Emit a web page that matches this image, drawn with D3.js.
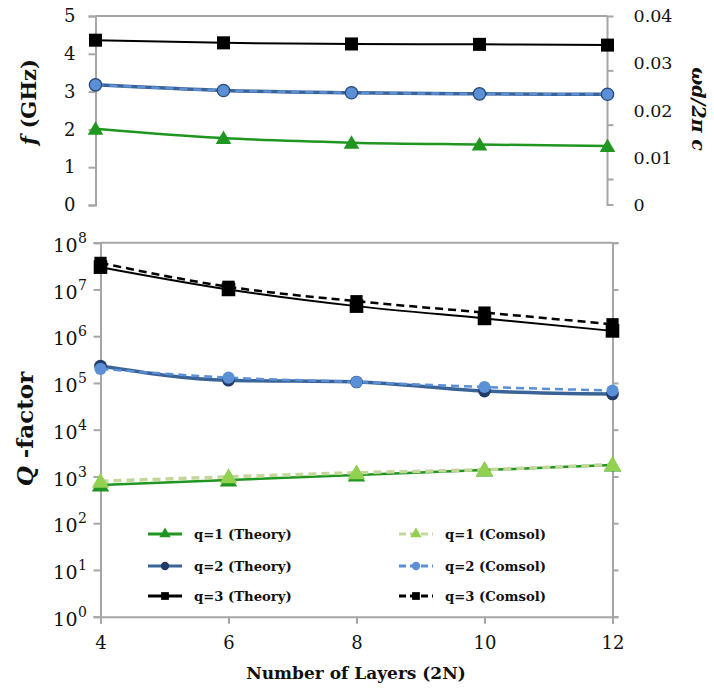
<!DOCTYPE html>
<html><head><meta charset="utf-8">
<script src="https://cdn.jsdelivr.net/npm/d3@7/dist/d3.min.js"></script>
<style>body{margin:0;background:#fff}svg{display:block}text{font-family:"DejaVu Serif",serif}</style>
</head><body><svg id="c" width="714" height="690"></svg>
<script>
// ---- data ----
const layers = [4, 6, 8, 10, 12];
// top panel: resonance frequency f (GHz)
const fQ1 = [2.02, 1.77, 1.65, 1.60, 1.56];
const fQ2 = [3.18, 3.03, 2.97, 2.94, 2.93];
const fQ3 = [4.36, 4.29, 4.26, 4.25, 4.23];
// bottom panel: Q-factor
const qQ1Theory = [660, 840, 1070, 1370, 1750];
const qQ1Comsol = [790, 980, 1200, 1400, 1800];
const qQ2Theory = [230000, 114000, 105000, 67000, 58000];
const qQ2Comsol = [200000, 130000, 105000, 82000, 69000];
const qQ3Theory = [30000000, 10000000, 4400000, 2400000, 1300000];
const qQ3Comsol = [37000000, 11400000, 5600000, 3200000, 1800000];
const fTicks = [0, 1, 2, 3, 4, 5];
const rightTicks = [0, 0.01, 0.02, 0.03, 0.04];
const rightTickMarks = [0.0055, 0.017, 0.0285, 0.04];
const logTicks = [1, 10, 100, 1000, 10000, 100000, 1000000, 10000000, 100000000];
const legendItems = [
  {label: "q=1 (Theory)", key: "q1t"}, {label: "q=1 (Comsol)", key: "q1c"},
  {label: "q=2 (Theory)", key: "q2t"}, {label: "q=2 (Comsol)", key: "q2c"},
  {label: "q=3 (Theory)", key: "q3t"}, {label: "q=3 (Comsol)", key: "q3c"}
];

// ---- styles ----
const GRID = "#a6a6a6";
const st = {
  q1t: {line: "#1f961f", w: 2.5, dash: null, marker: "tri", fill: "#1f961f"},
  q1c: {line: "#c4d79b", w: 3.5, dash: "8,5", marker: "tri", fill: "#92d050"},
  q2t: {line: "#3a6497", w: 3.5, dash: null, marker: "circ", fill: "#1f3c68"},
  q2c: {line: "#5b8fd6", w: 2.5, dash: "8,5", marker: "circ", fill: "#5b8fd6"},
  q3t: {line: "#000", w: 2, dash: null, marker: "sq", fill: "#000"},
  q3c: {line: "#000", w: 2.5, dash: "8,5", marker: "sq", fill: "#000"}
};
const symType = {tri: d3.symbolTriangle, circ: d3.symbolCircle, sq: d3.symbolSquare};
const symSize = {tri: 110, circ: 125, sq: 175};

const svg = d3.select("#c");

function axisStyle(g, fs = 17) {
  g.selectAll("path.domain").attr("stroke", GRID).attr("stroke-width", 2);
  g.selectAll(".tick line").attr("stroke", GRID).attr("stroke-width", 2);
  g.selectAll(".tick text").attr("fill", "#111").style("font-family", "DejaVu Serif").style("font-size", fs + "px");
}

function drawSeries(g, x, y, vals, s, curve, opts = {}) {
  const line = d3.line().x((d, i) => x(layers[i])).y(d => y(d)).curve(curve);
  g.append("path").attr("d", line(vals)).attr("fill", "none")
    .attr("stroke", opts.lineColor || s.line).attr("stroke-width", opts.w || s.w)
    .attr("stroke-dasharray", opts.dash === undefined ? s.dash : opts.dash);
}
function drawMarkers(g, x, y, vals, s, opts = {}) {
  g.selectAll(null).data(vals).enter().append("path")
    .attr("d", d3.symbol().type(symType[s.marker]).size(opts.size || symSize[s.marker]))
    .attr("transform", (d, i) => `translate(${x(layers[i])},${y(d) + (s.marker === "tri" ? 1.5 : 0)})`)
    .attr("fill", opts.fill || s.fill).attr("stroke", opts.stroke || "none").attr("stroke-width", 1.3);
}

// ================= TOP PANEL =================
const xT = d3.scaleLinear().domain([4, 12]).range([95.5, 607.5]);
const yT = d3.scaleLinear().domain([0, 5]).range([205, 16]);
const yR = d3.scaleLinear().domain([0, 0.04]).range([205, 16]);
const topG = svg.append("g");
topG.append("line").attr("x1", xT(4)).attr("x2", xT(12)).attr("y1", 16).attr("y2", 16).attr("stroke", GRID).attr("stroke-width", 2);
const gL = topG.append("g").attr("transform", `translate(${xT(4)},0)`)
  .call(d3.axisLeft(yT).tickValues(fTicks).tickSize(7).tickPadding(13).tickFormat(d3.format("d")));
axisStyle(gL, 18);
const gR = topG.append("g").attr("transform", `translate(${xT(12)},0)`)
  .call(d3.axisRight(yR).tickValues(rightTickMarks).tickSize(6).tickFormat(""));
axisStyle(gR);
gR.selectAll("path.domain").attr("d", `M0,16V205H6`);
const gRL = topG.append("g").attr("transform", `translate(${xT(12)},0)`)
  .call(d3.axisRight(yR).tickValues(rightTicks).tickSize(0).tickPadding(26).tickFormat(d => d === 0 ? "0" : d3.format(".2f")(d)));
axisStyle(gRL, 17.5);
gRL.select("path.domain").remove();

const curve = d3.curveMonotoneX;
const pT = topG.append("g");
drawSeries(pT, xT, yT, fQ1, st.q1t, curve);
drawSeries(pT, xT, yT, fQ2, st.q2t, curve);
drawSeries(pT, xT, yT, fQ2, st.q2c, curve, {w: 2.5, dash: "8,6"});
drawSeries(pT, xT, yT, fQ3, st.q3t, curve);
drawMarkers(pT, xT, yT, fQ1, st.q1t, {size: 105});
drawMarkers(pT, xT, yT, fQ2, st.q2c, {stroke: "#24497a", size: 120});
drawMarkers(pT, xT, yT, fQ3, st.q3t, {size: 170});

const tf = topG.append("text").attr("transform", "translate(36,102) rotate(-90)").attr("text-anchor", "middle")
  .attr("font-weight", "bold").attr("font-size", 21).attr("fill", "#111");
tf.append("tspan").attr("font-style", "italic").text("f");
tf.append("tspan").text(" (GHz)");
topG.append("text").attr("transform", "translate(692,109) rotate(90)").attr("text-anchor", "middle")
  .attr("font-weight", "bold").attr("font-style", "italic").attr("font-size", 19).attr("fill", "#111")
  .text("ωd/2π c");

// ================= BOTTOM PANEL =================
const xB = d3.scaleLinear().domain([4, 12]).range([100.5, 612.5]);
const yB = d3.scaleLog().domain([1, 1e8]).range([616.7, 242.7]);
const bot = svg.append("g");
bot.append("line").attr("x1", xB(4)).attr("x2", xB(12)).attr("y1", yB(1e8)).attr("y2", yB(1e8)).attr("stroke", GRID).attr("stroke-width", 2);
const gBL = bot.append("g").attr("transform", `translate(${xB(4)},0)`)
  .call(d3.axisLeft(yB).tickValues(logTicks).tickSize(7).tickPadding(6).tickFormat(d => "10"));
axisStyle(gBL, 19);
gBL.selectAll(".tick text").each(function(d) {
  const t = d3.select(this);
  t.text("10").attr("dy", "0.45em").attr("letter-spacing", 0.5);
  t.append("tspan").attr("dy", -9).style("font-size", "14px").text(Math.round(Math.log10(d)));
});
const gBR = bot.append("g").attr("transform", `translate(${xB(12)},0)`)
  .call(d3.axisRight(yB).tickValues(logTicks).tickSize(6).tickFormat(""));
axisStyle(gBR);
const gBX = bot.append("g").attr("transform", `translate(0,${yB(1)})`)
  .call(d3.axisBottom(xB).tickValues(layers).tickSize(7).tickPadding(13).tickFormat(d3.format("d")));
axisStyle(gBX, 18);

const pB = bot.append("g");
const lin = d3.curveMonotoneX;
drawSeries(pB, xB, yB, qQ1Theory, st.q1t, lin);
drawSeries(pB, xB, yB, qQ1Comsol, st.q1c, lin);
drawSeries(pB, xB, yB, qQ2Theory, st.q2t, lin);
drawSeries(pB, xB, yB, qQ2Comsol, st.q2c, lin);
drawSeries(pB, xB, yB, qQ3Theory, st.q3t, lin);
drawSeries(pB, xB, yB, qQ3Comsol, st.q3c, lin);
drawMarkers(pB, xB, yB, qQ1Theory, st.q1t, {size: 130});
drawMarkers(pB, xB, yB, qQ1Comsol, st.q1c, {size: 130});
drawMarkers(pB, xB, yB, qQ2Theory, st.q2t, {size: 125});
drawMarkers(pB, xB, yB, qQ2Comsol, st.q2c, {size: 115});
drawMarkers(pB, xB, yB, qQ3Theory, st.q3t, {size: 185});
drawMarkers(pB, xB, yB, qQ3Comsol, st.q3c, {size: 150});

const leg = bot.append("g");
const colX = [148, 399], colTx = [194, 445], rowY = [534, 566, 596];
legendItems.forEach((it, i) => {
  const c = i % 2, r = Math.floor(i / 2), s = st[it.key];
  const x0 = colX[c], x1 = colX[c] + 34, y = rowY[r];
  leg.append("line").attr("x1", x0).attr("x2", x1).attr("y1", y).attr("y2", y)
    .attr("stroke", s.line).attr("stroke-width", 3).attr("stroke-dasharray", s.dash ? "7,4" : null);
  leg.append("path").attr("d", d3.symbol().type(symType[s.marker]).size(s.marker === "sq" ? 60 : 55)())
    .attr("transform", `translate(${(x0 + x1) / 2},${y})`).attr("fill", s.fill);
  leg.append("text").attr("x", colTx[c]).attr("y", y).attr("dy", "0.35em")
    .attr("font-weight", "bold").attr("font-size", 13.2).attr("fill", "#111").text(it.label);
});

const tq = bot.append("text").attr("transform", "translate(33,429) rotate(-90)").attr("text-anchor", "middle")
  .attr("font-weight", "bold").attr("font-size", 23).attr("fill", "#111");
tq.append("tspan").attr("font-style", "italic").text("Q");
tq.append("tspan").text(" -factor");
bot.append("text").attr("x", 356).attr("y", 679).attr("text-anchor", "middle")
  .attr("font-weight", "bold").attr("font-size", 17).attr("fill", "#111").text("Number of Layers (2N)");
</script></body></html>
